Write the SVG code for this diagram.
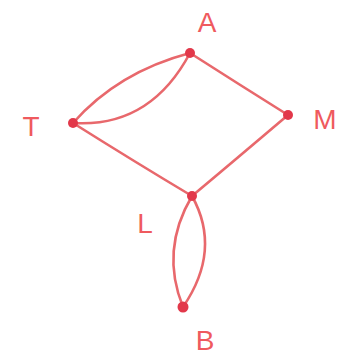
<svg xmlns="http://www.w3.org/2000/svg" width="346" height="358" viewBox="0 0 346 358">
<style>
.e{fill:none;stroke:#e8686c;stroke-width:2.6;stroke-linecap:round}
.n{fill:#e2384a}
.t{fill:#ef5a5e;font-family:"Liberation Sans",sans-serif;font-size:28px;text-anchor:middle}
</style>
<rect width="346" height="358" fill="#ffffff"/>
<g id="edges">
<path class="e" d="M73,123 Q118,72 190,53"/>
<path class="e" d="M73,123 Q150,128 190,53"/>
<path class="e" d="M190,53 Q240,85 288,115"/>
<path class="e" d="M73,123 Q135,162 192,196"/>
<path class="e" d="M288,115 Q235,160 192,196"/>
<path class="e" d="M192,196 Q160,250 183,307"/>
<path class="e" d="M192,196 Q222,250 183,307"/>
</g>
<g id="A"><circle class="n" cx="190" cy="53" r="5"/><text class="t" x="207" y="32">A</text></g>
<g id="T"><circle class="n" cx="73" cy="123" r="5"/><text class="t" x="31" y="136">T</text></g>
<g id="M"><circle class="n" cx="288" cy="115" r="5"/><text class="t" x="325" y="129">M</text></g>
<g id="L"><circle class="n" cx="192" cy="196" r="5"/><text class="t" x="145" y="233">L</text></g>
<g id="B"><circle class="n" cx="183" cy="307" r="5.5"/><text class="t" x="205" y="350">B</text></g>
</svg>
